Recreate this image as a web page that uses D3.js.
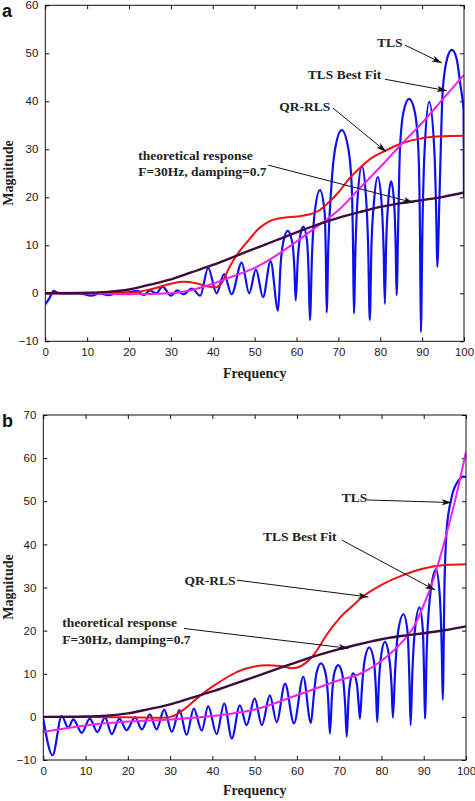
<!DOCTYPE html>
<html>
<head>
<meta charset="utf-8">
<script src="https://cdn.jsdelivr.net/npm/d3@7"></script>
<style>
    html, body { margin: 0; padding: 0; background: white; }
    svg { display: block; }
    .tick text { font-family: "Liberation Sans", Arial, sans-serif; fill: #1a1a1a; }
    .note { font-family: "Liberation Serif", "Times New Roman", serif; font-weight: bold; fill: #222; }
</style>
</head>
<body>
<svg id="chart" width="475" height="801"></svg>
<script>
// ---- Data: [frequency, magnitude] ----

// Panel a
const tlsA = [
    [0, -2.3], [1, -1], [2, 0.5], [3, 0.1], [5, 0], [8, 0], [11, -0.5], [13, 0], [15, -0.4], [17, 0],
    [20, 0.2], [22, 0.5], [23.5, -0.4], [25, 0.6], [26.5, 0], [28, 1.4], [30, -0.5], [31.5, 0.6],
    [33, -0.2], [35, 1], [37, -0.5], [38.9, 5.3], [40.9, 0], [42.7, 4], [44.5, -0.2], [46.9, 6.4],
    [48.7, 0], [50.3, 5], [52, -0.8], [53.8, 6.7], [55.6, -3.6], [56.2, 6], [56.8, 10.5], [57.9, 13],
    [59, 10.5], [59.5, 5], [59.8, -1.5], [60.3, 7], [60.8, 11.5], [61.6, 13.9], [62.5, 11], [62.9, 4],
    [63.2, -5.6], [63.7, 8], [64.3, 16.5], [65.6, 21.5], [66.7, 17], [67, 8], [67.2, -4], [67.6, 10],
    [68.3, 22], [69.2, 30], [70.8, 34], [72.4, 30], [73.2, 22], [73.5, 10], [73.7, -4.2], [74.1, 10],
    [74.6, 20], [75.6, 26.5], [76.6, 20], [77.1, 10], [77.5, -5.6], [77.9, 10], [78.5, 19], [79.4, 24.2],
    [80.3, 19], [80.8, 9], [81.1, -2.2], [81.4, 10], [81.9, 19], [82.6, 23.3], [83.3, 19], [83.7, 9],
    [83.9, -0.4], [84.3, 15], [84.7, 30], [85.6, 38], [86.9, 40.5], [88.2, 38], [89.1, 30], [89.5, 12],
    [89.7, -8.1], [90.1, 15], [90.6, 30], [91.7, 39.9], [92.9, 30], [93.4, 15], [93.6, 5.5], [94.2, 22],
    [94.9, 42], [96, 49], [97.1, 50.7], [98.2, 49], [99.2, 43], [99.9, 38], [100, 20]
];
const qrA = [
    [0, 0], [10, 0], [20, 0.1], [25, 0.8], [30, 2], [33, 2.4], [36, 2.1], [38.5, 1.5], [40.5, 1.2],
    [42, 2], [44, 5.5], [46, 8.3], [48.5, 11], [51, 13.5], [53.5, 15], [56.5, 15.7], [60, 16],
    [63, 16.4], [65.5, 17.3], [67.5, 18.8], [70, 21], [72.5, 23.8], [75, 26], [78, 28.2], [81, 29.6],
    [85, 31.2], [90, 32.3], [95, 32.7], [100, 32.8]
];
const fitA = [
    [0, 0], [10, 0], [20, -0.2], [30, 0], [35, 0.7], [40, 2], [45, 3.6], [50, 5.3], [55, 7.8],
    [60, 10.8], [65, 14], [70, 17.3], [75, 21.8], [80, 26.3], [85, 31], [90, 35.5], [95, 40.5], [100, 45.5]
];

// Panel b
const tlsB = [
    [0, -0.4], [2.2, -8.9], [4.35, 0.2], [5.9, -2.5], [7.1, -0.6], [9.1, -3.7], [11, -0.4], [12.8, -3.5],
    [14.6, -0.1], [16.2, -4], [18, -0.4], [19.7, -3.1], [21.7, -0.1], [23.3, -2.9], [25.2, 0.6],
    [26.8, -2.9], [28.6, 1.7], [30.4, -3.5], [32.2, 1.6], [33.9, -4.2], [35.6, 1.9], [37.5, -3.2],
    [39, 2.5], [41, -4], [42.8, 3.1], [44.6, -5], [46.5, 2.7], [48.1, -1.9], [50, 4.3], [51.7, -1.9],
    [53.6, 5], [55.2, -1.2], [57.2, 7.7], [59.3, -1.5], [61.5, 9.3], [63.3, -1.4], [64, 5], [64.6, 10],
    [65.7, 12.4], [66.8, 10], [67.4, 4], [67.8, -3.9], [68.3, 5], [68.8, 10], [69.8, 12], [70.8, 9.5],
    [71.4, 3], [71.8, -4.6], [72.2, 4], [72.6, 8], [73.3, 10.1], [74.2, 7.5], [74.6, 3], [74.9, -0.4],
    [75.4, 7], [76, 13], [77.1, 16.1], [78.2, 13], [78.7, 6], [79, -1.2], [79.4, 8], [79.9, 14],
    [80.8, 17.4], [81.8, 14], [82.4, 7], [82.7, -0.2], [83.2, 10], [83.9, 19.5], [85.2, 23.8],
    [86.2, 19.5], [86.6, 9], [86.9, -1.9], [87.3, 10], [87.9, 20], [89, 25.4], [89.8, 20], [90.1, 9],
    [90.3, -0.4], [90.7, 15], [91.5, 28], [92.9, 34.2], [93.8, 28], [94.3, 14], [94.5, 4], [94.9, 30],
    [95.4, 43], [96.5, 50.5], [98, 54.5], [99.5, 55.7], [100, 55.6]
];
const qrB = [
    [0, 0], [10, 0], [20, -0.1], [28, -0.2], [30, 0], [32, 0.8], [34, 2.3], [36, 4], [38, 5.6], [40, 7],
    [43, 8.9], [46, 10.5], [50, 11.7], [53, 12], [56, 11.8], [59, 11.3], [61, 11.8], [63, 13.3],
    [65, 15.8], [67, 19], [70, 22.8], [73, 25.6], [76, 28.2], [80, 30.6], [85, 32.8], [90, 34.4],
    [95, 35.2], [100, 35.4]
];
const fitB = [
    [0, -3.5], [10, -2], [20, -1.1], [30, -0.6], [40, 0.2], [50, 1.7], [60, 5], [70, 8.5], [75, 10],
    [80, 13], [85, 17.5], [88, 21.5], [90, 26], [92, 31], [95, 41], [97.5, 50.5], [100, 61.5]
];

// Theoretical response (F=30Hz, damping=0.7), same in both panels
const theory = [
    [0, 0], [10, 0.1], [15, 0.3], [20, 0.8], [25, 1.8], [30, 2.9], [35, 4.4], [40, 5.9], [45, 7.6],
    [50, 9.3], [55, 11], [60, 12.7], [65, 14.3], [70, 15.7], [75, 16.9], [80, 18], [85, 18.8],
    [90, 19.4], [95, 20.1], [100, 21]
];

const xTicks = d3.range(0, 101, 10);
const yTicksA = d3.range(-10, 61, 10);
const yTicksB = d3.range(-10, 71, 10);

// ---- Drawing ----
const svg = d3.select('#chart');
const defs = svg.append('defs');

defs.append('marker')
    .attr('id', 'head')
    .attr('markerUnits', 'userSpaceOnUse')
    .attr('viewBox', '0 -4 10 8')
    .attr('refX', 10)
    .attr('refY', 0)
    .attr('markerWidth', 10)
    .attr('markerHeight', 8)
    .attr('orient', 'auto')
  .append('path')
    .attr('d', 'M0,-3.2L10,0L0,3.2L2.5,0Z')
    .attr('fill', '#111');

const panels = [
    {
        id: 'a', letterY: 17, x: [45.3, 464], y: [341.3, 5.3], yDomain: [-10, 60], yTicks: yTicksA,
        xTitleY: 378, yTitleY: 173, tls: tlsA, qr: qrA, fit: fitA,
        notes: [
            { text: ['TLS'], at: [79.2, 51.3], from: [85.9, 51.7], to: [94.7, 48] },
            { text: ['TLS Best Fit'], at: [62.7, 44.6], from: [81.1, 44.6], to: [95.9, 42.2] },
            { text: ['QR-RLS'], at: [55.9, 38], from: [68.7, 38.6], to: [81.4, 29.5] },
            { text: ['theoretical response', 'F=30Hz, damping=0.7'], at: [22.2, 27.8], from: [53.2, 26.7], to: [87.9, 18.9] }
        ]
    },
    {
        id: 'b', letterY: 427, x: [43.3, 466], y: [760, 415], yDomain: [-10, 70], yTicks: yTicksB,
        xTitleY: 795, yTitleY: 587, tls: tlsB, qr: qrB, fit: fitB,
        notes: [
            { text: ['TLS'], at: [70.6, 49.8], from: [76.6, 50.3], to: [96.6, 49.7] },
            { text: ['TLS Best Fit'], at: [52, 40.8], from: [70.6, 41], to: [92.7, 29.4] },
            { text: ['QR-RLS'], at: [33.4, 30.6], from: [45.8, 31.7], to: [76.9, 27.8] },
            { text: ['theoretical response', 'F=30Hz, damping=0.7'], at: [4.5, 20.8], from: [33.3, 20.5], to: [72.2, 15.9] }
        ]
    }
];

panels.forEach(drawPanel);

function drawPanel(p) {
    const x = d3.scaleLinear().domain([0, 100]).range(p.x);
    const y = d3.scaleLinear().domain(p.yDomain).range(p.y);
    const [x0, x1] = p.x;
    const [y0, y1] = p.y;
    const g = svg.append('g');

    defs.append('clipPath').attr('id', 'clip-' + p.id)
      .append('rect')
        .attr('x', x0).attr('y', y1)
        .attr('width', x1 - x0).attr('height', y0 - y1);

    // Axes, MATLAB style: ticks inside on all four sides
    const fmt = d3.format('d');
    g.append('g')
        .attr('transform', `translate(0,${y0})`)
        .call(d3.axisBottom(x).tickValues(xTicks).tickFormat(fmt).tickSizeInner(-4).tickSizeOuter(0).tickPadding(7))
        .call(styleAxis);
    g.append('g')
        .attr('transform', `translate(0,${y1})`)
        .call(d3.axisTop(x).tickValues(xTicks).tickFormat('').tickSizeInner(-4).tickSizeOuter(0))
        .call(styleAxis);
    g.append('g')
        .attr('transform', `translate(${x0},0)`)
        .call(d3.axisLeft(y).tickValues(p.yTicks).tickFormat(fmt).tickSizeInner(-4).tickSizeOuter(0).tickPadding(7))
        .call(styleAxis);
    g.append('g')
        .attr('transform', `translate(${x1},0)`)
        .call(d3.axisRight(y).tickValues(p.yTicks).tickFormat('').tickSizeInner(-4).tickSizeOuter(0))
        .call(styleAxis);

    // Curves
    const line = d3.line()
        .x((d) => x(d[0]))
        .y((d) => y(d[1]))
        .curve(d3.curveMonotoneX);
    const curves = g.append('g').attr('clip-path', `url(#clip-${p.id})`).attr('fill', 'none');
    [
        { data: p.tls, color: '#1010ee', width: 2.2 },
        { data: p.qr, color: '#ee1111', width: 2 },
        { data: p.fit, color: '#ee22ee', width: 2 },
        { data: theory, color: '#3e0b3e', width: 2.4 }
    ].forEach((s) => {
        curves.append('path')
            .attr('d', line(s.data))
            .attr('stroke', s.color)
            .attr('stroke-width', s.width)
            .attr('stroke-linejoin', 'round');
    });

    // Frame
    g.append('rect')
        .attr('x', x0).attr('y', y1)
        .attr('width', x1 - x0).attr('height', y0 - y1)
        .attr('fill', 'none')
        .attr('stroke', '#111')
        .attr('stroke-width', 1);

    // Annotations with arrows
    p.notes.forEach((n) => {
        g.append('line')
            .attr('x1', x(n.from[0])).attr('y1', y(n.from[1]))
            .attr('x2', x(n.to[0])).attr('y2', y(n.to[1]))
            .attr('stroke', '#111')
            .attr('stroke-width', 1)
            .attr('marker-end', 'url(#head)');
        n.text.forEach((t, i) => {
            g.append('text')
                .attr('class', 'note')
                .attr('x', x(n.at[0]))
                .attr('y', y(n.at[1]) + i * 16.5)
                .attr('font-size', 13.5)
                .text(t);
        });
    });

    // Titles
    g.append('text')
        .attr('class', 'note')
        .attr('x', (x0 + x1) / 2)
        .attr('y', p.xTitleY)
        .attr('text-anchor', 'middle')
        .attr('font-size', 14)
        .text('Frequency');
    g.append('text')
        .attr('class', 'note')
        .attr('transform', `translate(13,${p.yTitleY}) rotate(-90)`)
        .attr('text-anchor', 'middle')
        .attr('font-size', 14)
        .text('Magnitude');

    // Panel letter
    g.append('text')
        .attr('x', 2)
        .attr('y', p.letterY)
        .attr('font-family', '"Liberation Sans", Arial, sans-serif')
        .attr('font-weight', 'bold')
        .attr('font-size', 18)
        .attr('fill', '#111')
        .text(p.id);
}

function styleAxis(sel) {
    sel.select('.domain').remove();
    sel.selectAll('.tick line').attr('stroke', '#111');
    sel.selectAll('.tick text').attr('font-size', 11.5);
}
</script>
</body>
</html>
